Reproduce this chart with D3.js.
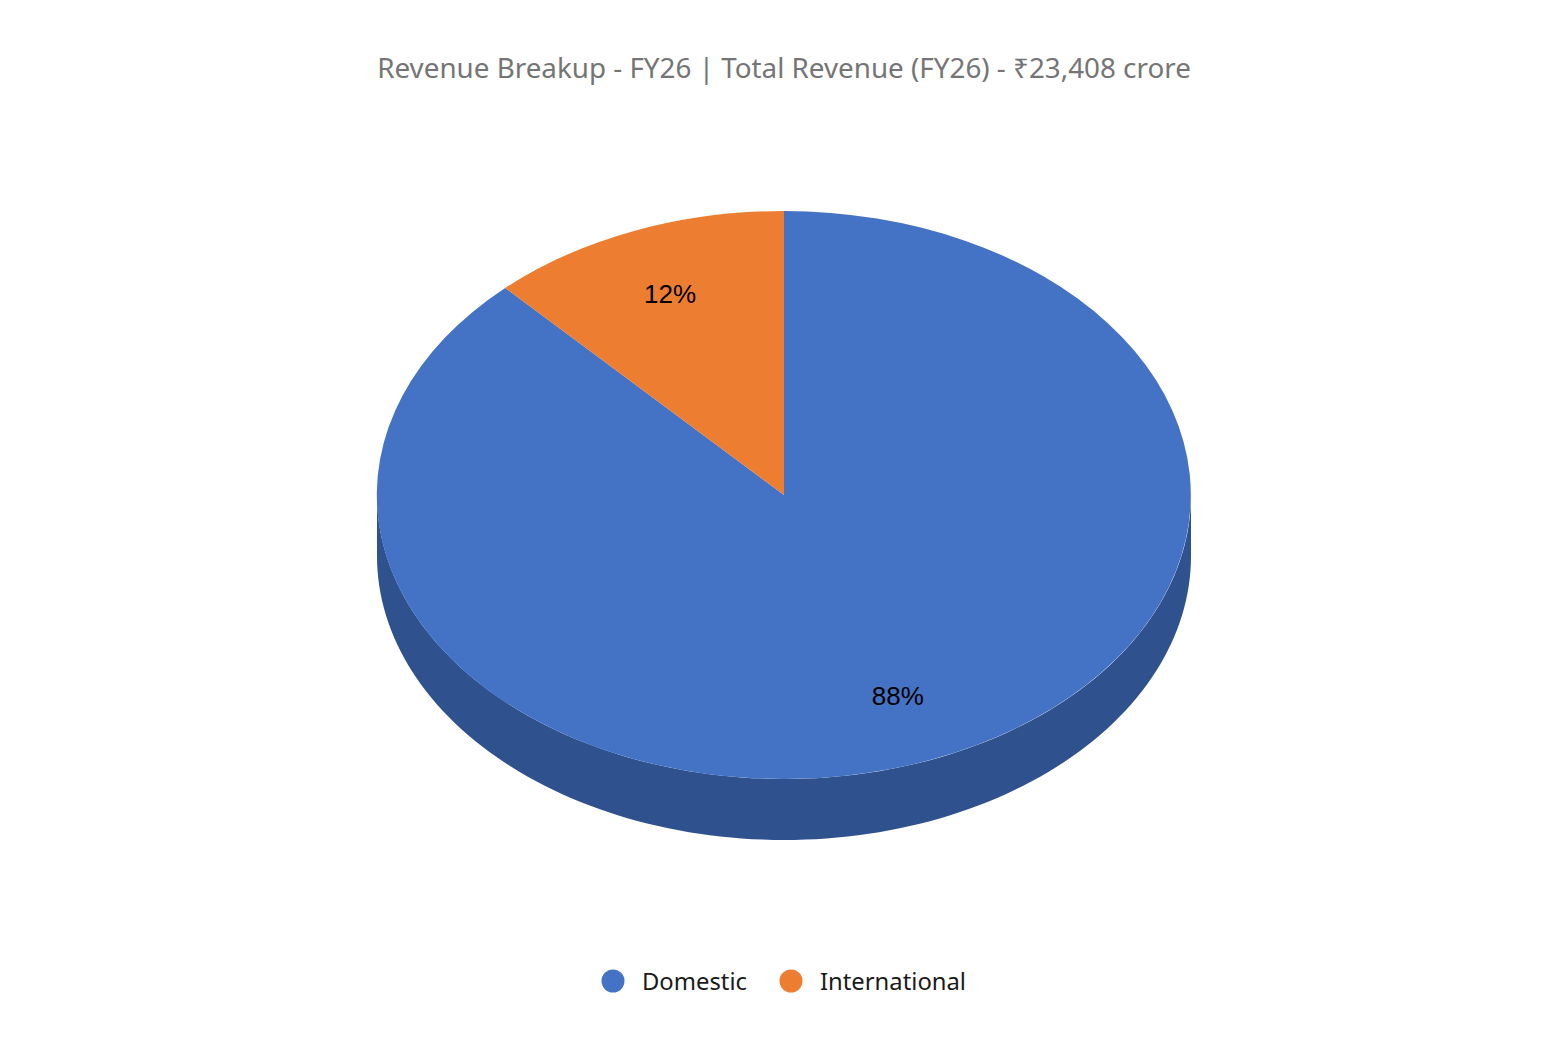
<!DOCTYPE html>
<html>
<head>
<meta charset="utf-8">
<script src="https://cdn.jsdelivr.net/npm/d3@7"></script>
<style>
  body { margin: 0; background: #fff; }
  svg { display: block; }
</style>
</head>
<body>
<div id="chart"></div>
<script>
// chart data
const categories = ["Domestic", "International"];
const shares = [88, 12];
const colors = ["#4472C4", "#ED7D31"];
const sideColors = ["#2F528F", "#B85E1E"];
const chartTitle = "Revenue Breakup - FY26 | Total Revenue (FY26) - ₹23,408 crore";

const width = 1568, height = 1048;
const cx = 784, cy = 495, rx = 407, ry = 284, depth = 61;

const svg = d3.select("#chart").append("svg")
    .attr("width", width)
    .attr("height", height);

svg.append("text")
    .attr("x", width / 2)
    .attr("y", 78)
    .attr("text-anchor", "middle")
    .attr("font-family", "'Noto Sans', 'Open Sans', sans-serif")
    .attr("font-size", 27.8)
    .attr("fill", "#757575")
    .text(chartTitle);

const data = categories.map((c, i) => ({name: c, value: shares[i], color: colors[i], side: sideColors[i]}));

const pie = d3.pie().sort(null).value(d => d.value);
const arcs = pie(data);

// point on the ellipse for a d3 angle (0 = top, clockwise)
function pt(a, dy) {
    return [cx + rx * Math.sin(a), cy - ry * Math.cos(a) + (dy || 0)];
}

// side wall, only the front half (angles pi/2 .. 3pi/2) is visible
function sidePath(a0, a1) {
    const s = Math.max(a0, Math.PI / 2), e = Math.min(a1, 3 * Math.PI / 2);
    if (e <= s) return null;
    const n = 120;
    const ts = d3.range(n + 1).map(i => s + (e - s) * i / n);
    const top = ts.map(t => pt(t, 0));
    const bottom = ts.slice().reverse().map(t => pt(t, depth));
    return d3.line()(top.concat(bottom)) + "Z";
}

const sides = svg.append("g");
arcs.forEach(a => {
    const p = sidePath(a.startAngle, a.endAngle);
    if (p) sides.append("path").attr("d", p).attr("fill", a.data.side);
});

// top face: unit circle arcs squashed into the ellipse
const unitArc = d3.arc().innerRadius(0).outerRadius(1);
svg.append("g")
    .attr("transform", `translate(${cx},${cy}) scale(${rx},${ry})`)
    .selectAll("path")
    .data(arcs)
    .join("path")
    .attr("d", unitArc)
    .attr("fill", d => d.data.color);

// percentage labels
svg.append("g")
    .selectAll("text")
    .data(arcs)
    .join("text")
    .attr("x", d => pt((d.startAngle + d.endAngle) / 2)[0] * 0.76 + cx * 0.24)
    .attr("y", d => pt((d.startAngle + d.endAngle) / 2)[1] * 0.76 + cy * 0.24)
    .attr("text-anchor", "middle")
    .attr("dominant-baseline", "central")
    .attr("font-family", "'Liberation Sans', Arial, sans-serif")
    .attr("font-size", 26)
    .attr("fill", "#000")
    .text(d => d.data.value + "%");

// legend
const legend = svg.append("g").attr("transform", "translate(0,981)");
const legendX = [613, 791];
const items = legend.selectAll("g")
    .data(data)
    .join("g")
    .attr("transform", (d, i) => `translate(${legendX[i]},0)`);
items.append("circle")
    .attr("r", 11.5)
    .attr("fill", d => d.color);
items.append("text")
    .attr("x", 29)
    .attr("dominant-baseline", "central")
    .attr("font-family", "'Noto Sans', 'Open Sans', sans-serif")
    .attr("font-size", 23.8)
    .attr("fill", "#1a1a1a")
    .text(d => d.name);
</script>
</body>
</html>
